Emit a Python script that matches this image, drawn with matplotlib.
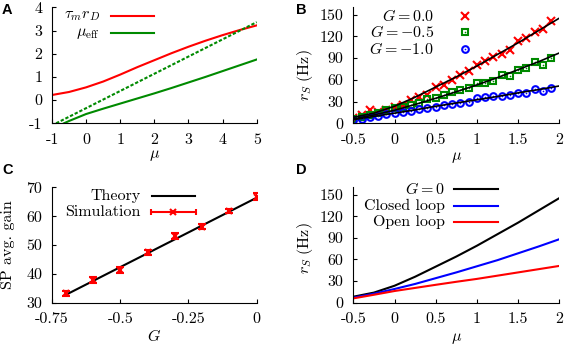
import matplotlib
matplotlib.use("Agg")
import matplotlib.pyplot as plt
import numpy as np

plt.rcParams['font.family'] = ['cmr10', 'DejaVu Serif']
plt.rcParams['mathtext.fontset'] = 'cm'
plt.rcParams['axes.unicode_minus'] = False
plt.rcParams['axes.formatter.use_mathtext'] = True

FS = 11.5
RED = '#ff0000'
GREEN = '#008a00'
BLUE = '#0000ff'

# ---------------- Panel A data ----------------
mu_A = [-1, -0.5, 0, 0.5, 1, 1.5, 2, 2.5, 3, 3.5, 4, 4.5, 5]
tau_rD = [0.22, 0.35, 0.55, 0.80, 1.10, 1.42, 1.72, 2.02, 2.30, 2.56, 2.80, 3.02, 3.22]
mu_eff_x = [-0.65, -0.5, 0, 0.5, 1, 1.5, 2, 2.5, 3, 3.5, 4, 4.5, 5]
mu_eff = [-1.0, -0.9, -0.6, -0.37, -0.15, 0.07, 0.29, 0.52, 0.76, 1.0, 1.25, 1.5, 1.75]
dot_x = [-0.88, 5]
dot_y = [-1.0, 3.36]

# ---------------- Panel B data ----------------
mu_B_pts = [-0.5, -0.4, -0.3, -0.2, -0.1, 0.0, 0.1, 0.2, 0.3, 0.4, 0.5, 0.6, 0.7,
            0.8, 0.9, 1.0, 1.1, 1.2, 1.3, 1.4, 1.5, 1.6, 1.7, 1.8, 1.9]
rB_G0 = [7, 11.5, 18, 16, 19, 23, 25, 32, 36, 39, 50, 53, 60, 66, 71.5, 80,
         85.3, 91, 95.5, 101.5, 114, 117.7, 126, 130.6, 140.7]
rB_G05 = [5.5, 9, 11.5, 13.8, 18.4, 20.7, 22, 25, 27.7, 33, 34.6, 39, 43.7,
          46.5, 49, 55.5, 55, 59, 67, 65, 73, 76, 85, 80.7, 90]
rB_G10 = [5, 6.5, 8.5, 10.5, 13, 14.5, 16, 17.5, 19.5, 21, 23, 25.5, 26, 27.7,
          30, 34.6, 36.9, 37.8, 38.3, 39.2, 41.5, 41.5, 47.5, 44.7, 49.3]
mu_th = [-0.5, -0.25, 0, 0.25, 0.5, 0.75, 1, 1.25, 1.5, 1.75, 2]
th_G0 = [8.3, 14, 23.5, 36, 50, 64, 79, 95, 111, 128, 145]
th_G05 = [6, 11.5, 18, 26, 34.5, 43.5, 53, 63, 74, 85, 97]
th_G10 = [5, 9.5, 14, 18.5, 23.5, 28, 32.5, 37, 42, 46.5, 51.5]
legB = [r'$G = 0.0$', r'$G = -0.5$', r'$G = -1.0$']

# ---------------- Panel C data ----------------
G_sim = [-0.7, -0.6, -0.5, -0.4, -0.3, -0.2, -0.1, 0.0]
gain_sim = [33.2, 37.9, 41.3, 47.5, 53.1, 56.4, 61.8, 66.8]
gain_err = [0.9, 0.9, 1.1, 0.9, 0.9, 1.0, 0.8, 1.2]
G_th = [-0.7, 0.0]
gain_th = [32.7, 66.4]

# ---------------- Panel D data ----------------
mu_D = [-0.5, -0.25, 0, 0.25, 0.5, 0.75, 1, 1.25, 1.5, 1.75, 2]
rD_G0 = th_G0
rD_closed = [7, 12.5, 19, 26, 34, 42, 50.5, 59, 68.5, 78, 88]
rD_open = [6, 11, 16.2, 20.5, 24.8, 29, 33, 37.5, 42, 46.5, 51]
legD = [r'$G = 0$', 'Closed loop', 'Open loop']

W, H = 567, 345
fig = plt.figure(figsize=(W / 100, H / 100), dpi=100)


def add_ax(x0, x1, ytop, ybot):
    return fig.add_axes([x0 / W, 1 - ybot / H, (x1 - x0) / W, (ybot - ytop) / H])


def style(ax):
    for s in ('top', 'right'):
        ax.spines[s].set_visible(False)
    for s in ('left', 'bottom'):
        ax.spines[s].set_linewidth(0.8)
    ax.tick_params(direction='in', length=3, width=0.8, labelsize=FS,
                   top=False, right=False)
    ax.tick_params(axis='x', pad=7)
    ax.tick_params(axis='y', pad=7)


axA = add_ax(52, 256.7, 7.3, 123.3)
axB = add_ax(353.3, 559.3, 7.3, 123.3)
axC = add_ax(52, 256.7, 187.3, 302.7)
axD = add_ax(353.3, 559.3, 187.3, 302.7)
for ax in (axA, axB, axC, axD):
    style(ax)

LW = 1.5
MS_X, MS_S, MS_O, MEW = 5.5, 4.8, 4.8, 1.5

# ---- A ----
axA.plot(mu_A, tau_rD, color=RED, lw=LW)
axA.plot(mu_eff_x, mu_eff, color=GREEN, lw=LW)
axA.plot(dot_x, dot_y, color=GREEN, lw=LW, ls=(0, (1.6, 0.9)))
axA.set_xlim(-1, 5)
axA.set_ylim(-1, 4)
axA.set_xticks([-1, 0, 1, 2, 3, 4, 5])
axA.set_xticklabels(['-1', '0', '1', '2', '3', '4', '5'])
axA.set_yticks([-1, 0, 1, 2, 3, 4])
axA.set_yticklabels(['-1', '0', '1', '2', '3', '4'])
axA.set_xlabel(r'$\mu$', fontsize=FS, va='center')
axA.xaxis.set_label_coords(0.5, -0.275)
for lab, col, yy in ((r'$\tau_m r_D$', RED, 0.927), (r'$\mu_{\rm eff}$', GREEN, 0.778)):
    axA.text(0.2345, yy, lab, transform=axA.transAxes, ha='right', va='center', fontsize=FS)
    axA.plot([0.287, 0.498], [yy, yy], transform=axA.transAxes, color=col, lw=LW, clip_on=False)

# ---- B ----
axB.plot(mu_B_pts, rB_G0, ls='none', marker='x', ms=MS_X, mew=MEW, color=RED)
axB.plot(mu_B_pts, rB_G05, ls='none', marker='s', ms=MS_S, mew=MEW, mfc='none', mec=GREEN)
axB.plot(mu_B_pts, rB_G05, ls='none', marker='o', ms=1.2, mew=0, color=GREEN)
axB.plot(mu_B_pts, rB_G10, ls='none', marker='o', ms=MS_O, mew=MEW, mfc='none', mec=BLUE)
axB.plot(mu_B_pts, rB_G10, ls='none', marker='o', ms=1.2, mew=0, color=BLUE)
for th in (th_G0, th_G05, th_G10):
    axB.plot(mu_th, th, color='black', lw=1.2)
axB.set_xlim(-0.5, 2)
axB.set_ylim(0, 160)
axB.set_xticks([-0.5, 0, 0.5, 1, 1.5, 2])
axB.set_xticklabels(['-0.5', '0', '0.5', '1', '1.5', '2'])
axB.set_yticks([0, 30, 60, 90, 120, 150])
axB.set_yticklabels(['0', '30', '60', '90', '120', '150'])
axB.set_xlabel(r'$\mu$', fontsize=FS, va='center')
axB.xaxis.set_label_coords(0.5, -0.295)
axB.set_ylabel(r'$r_S\ (\mathrm{Hz})$', fontsize=FS, va='center')
axB.yaxis.set_label_coords(-0.2345, 0.416)
rowsB = [0.928, 0.784, 0.641]
axB.text(0.392, rowsB[0], legB[0], transform=axB.transAxes, ha='right', va='center', fontsize=FS)
axB.text(0.392, rowsB[1], legB[1], transform=axB.transAxes, ha='right', va='center', fontsize=FS)
axB.text(0.392, rowsB[2], legB[2], transform=axB.transAxes, ha='right', va='center', fontsize=FS)
axB.plot([0.542], [rowsB[0]], transform=axB.transAxes, marker='x', ms=MS_X, mew=MEW, color=RED, clip_on=False)
axB.plot([0.542], [rowsB[1]], transform=axB.transAxes, marker='s', ms=MS_S, mew=MEW, mfc='none', mec=GREEN, clip_on=False)
axB.plot([0.542], [rowsB[1]], transform=axB.transAxes, marker='o', ms=1.2, mew=0, color=GREEN, clip_on=False)
axB.plot([0.542], [rowsB[2]], transform=axB.transAxes, marker='o', ms=MS_O, mew=MEW, mfc='none', mec=BLUE, clip_on=False)
axB.plot([0.542], [rowsB[2]], transform=axB.transAxes, marker='o', ms=1.2, mew=0, color=BLUE, clip_on=False)

# ---- C ----
axC.plot(G_th, gain_th, color='black', lw=LW)
axC.errorbar(G_sim, gain_sim, yerr=gain_err, fmt='x', ms=5, mew=1.5, color=RED,
             ecolor=RED, elinewidth=1.5, capsize=3, capthick=1.5)
axC.set_xlim(-0.75, 0)
axC.set_ylim(30, 70)
axC.set_xticks([-0.75, -0.5, -0.25, 0])
axC.set_xticklabels(['-0.75', '-0.5', '-0.25', '0'])
axC.set_yticks([30, 40, 50, 60, 70])
axC.set_yticklabels(['30', '40', '50', '60', '70'])
axC.set_xlabel(r'$G$', fontsize=FS, va='center')
axC.xaxis.set_label_coords(0.5, -0.285)
axC.set_ylabel('SP avg. gain', fontsize=FS, va='center')
axC.yaxis.set_label_coords(-0.215, 0.5)
axC.text(0.433, 0.927, 'Theory', transform=axC.transAxes, ha='right', va='center', fontsize=FS)
axC.plot([0.487, 0.699], [0.927, 0.927], transform=axC.transAxes, color='black', lw=LW, clip_on=False)
axC.text(0.433, 0.789, 'Simulation', transform=axC.transAxes, ha='right', va='center', fontsize=FS)
axC.errorbar([0.593], [0.789], xerr=[0.111], fmt='x', ms=5, mew=1.5, color=RED,
             ecolor=RED, elinewidth=1.5, capsize=2.5, capthick=1.5,
             transform=axC.transAxes, clip_on=False)
axC.set_xlim(-0.75, 0)
axC.set_ylim(30, 70)

# ---- D ----
axD.plot(mu_D, rD_G0, color='black', lw=LW)
axD.plot(mu_D, rD_closed, color=BLUE, lw=LW)
axD.plot(mu_D, rD_open, color=RED, lw=LW)
axD.set_xlim(-0.5, 2)
axD.set_ylim(0, 160)
axD.set_xticks([-0.5, 0, 0.5, 1, 1.5, 2])
axD.set_xticklabels(['-0.5', '0', '0.5', '1', '1.5', '2'])
axD.set_yticks([0, 30, 60, 90, 120, 150])
axD.set_yticklabels(['0', '30', '60', '90', '120', '150'])
axD.set_xlabel(r'$\mu$', fontsize=FS, va='center')
axD.xaxis.set_label_coords(0.5, -0.31)
axD.set_ylabel(r'$r_S\ (\mathrm{Hz})$', fontsize=FS, va='center')
axD.yaxis.set_label_coords(-0.2345, 0.47)
rowsD = [0.983, 0.840, 0.697]
for lab, col, yy in zip(legD, ['black', BLUE, RED], rowsD):
    axD.text(0.445, yy, lab, transform=axD.transAxes, ha='right', va='center', fontsize=FS)
    axD.plot([0.489, 0.704], [yy, yy], transform=axD.transAxes, color=col, lw=LW, clip_on=False)

# ---- panel letters ----
for letter, x, yb in (('A', 2, 14), ('B', 296, 14), ('C', 2, 174), ('D', 296, 174)):
    fig.text(x / W, 1 - yb / H, letter, family='Liberation Sans', weight='bold',
             fontsize=10.5, ha='left', va='baseline')

fig.savefig('out.png', dpi=100)
